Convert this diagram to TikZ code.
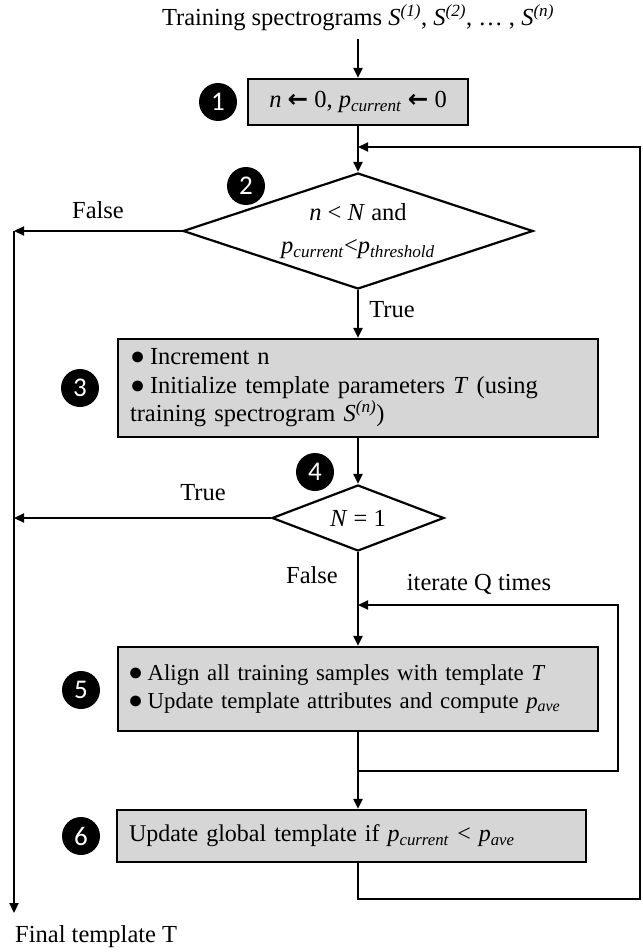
\documentclass[tikz,border=0pt]{standalone}
\usepackage{fontspec}
\setmainfont{Liberation Serif}
\newfontfamily\numfont{Carlito}
\newfontfamily\symf{DejaVu Sans}
\usetikzlibrary{shapes.geometric,arrows.meta}
\definecolor{boxgray}{RGB}{214,214,214}
\newcommand\pcur{\textit{p}\textsubscript{\textit{current}}}
\newcommand\pave{\textit{p}\textsubscript{\textit{ave}}}
\newcommand\bul{{\fontsize{25}{28}\selectfont ●}\hspace{0.2em}}
\newcommand\larr{{\symf\bfseries ←}}
\tikzset{
  line/.style={line width=2.2pt},
  arr/.style={line width=2.2pt,-{Triangle[length=10pt,width=9pt]}},
  procbox/.style={draw,line width=2.2pt,fill=boxgray,rectangle,inner sep=0pt},
  decis/.style={draw,diamond,line width=2.2pt,inner sep=0pt},
  numc/.style={circle,fill=black,text=white,minimum size=38pt,inner sep=0pt,font=\numfont\fontsize{27}{27}\selectfont},
}
\begin{document}
\begin{tikzpicture}[x=1pt,y=-1pt,font=\fontsize{24.5}{28.5}\selectfont]
\useasboundingbox (0,0) rectangle (642,952);
% nodes
\node[inner ysep=8pt,inner xsep=0pt] (title) at (358,18) {Training spectrograms \textit{S}\textsuperscript{\textit{(1)}}, \textit{S}\textsuperscript{\textit{(2)}}, … , \textit{S}\textsuperscript{\textit{(n)}}};
\node[procbox,minimum width=220pt,minimum height=46pt] (b1) at (358,102) {\textit{n} \larr{} 0, \pcur{} \larr{} 0};
\node[decis,minimum width=350pt,minimum height=116pt,aspect=3,align=center] (d2) at (358,231) {\textit{n} < \textit{N} and\\[5pt]\pcur<\textit{p}\textsubscript{\textit{threshold}}};
\node[procbox,minimum width=480pt,minimum height=98pt,text width=456pt,align=left] (b3) at (358,388) {\bul Increment n\\\bul Initialize template parameters \textit{T} (using\\training spectrogram \textit{S}\textsuperscript{\textit{(n)}})};
\node[decis,minimum width=172pt,minimum height=66pt,aspect=2.6] (d4) at (358,518) {\textit{N} = 1};
\node[procbox,minimum width=480pt,minimum height=84pt,text width=460pt,align=left,font=\fontsize{22.8}{28}\selectfont] (b5) at (358,689) {\bul Align all training samples with template \textit{T}\\\bul Update template attributes and compute \pave};
\node[procbox,minimum width=469pt,minimum height=52pt,text width=445pt,align=left,font=\fontsize{24}{28}\selectfont] (b6) at (351.5,836) {Update global template if \pcur{} < \pave};
\node[anchor=west,inner sep=0pt] (fin) at (15,937) {Final template T};
% number circles
\node[numc] (c1) at (218,102) {1};
\node[numc] (c2) at (246,186) {2};
\node[numc] (c3) at (80,388) {3};
\node[numc] (c4) at (315,472) {4};
\node[numc] (c5) at (81,690) {5};
\node[numc] (c6) at (81,836) {6};
% labels
\node[inner sep=0pt] (f1) at (98,210) {False};
\node[inner sep=0pt] (t1) at (392,310) {True};
\node[inner sep=0pt] (t2) at (203,493) {True};
\node[inner sep=0pt] (f2) at (312,575) {False};
\node[inner sep=0pt] (iq) at (479,584) {iterate Q times};
% coordinates
\coordinate (j1) at (358,147);
\coordinate (r2) at (640,899);
\coordinate (lx) at (14,0);
\coordinate (lend) at (14,913);
\coordinate (lq1) at (358,605);
\coordinate (lq2) at (618,605);
\coordinate (lq3) at (618,771);
\coordinate (lq4) at (358,771);
% connectors
\draw[arr] (b1.north |- title.south) -- (b1.north);
\draw[arr] (b1.south) -- (d2.north);
\draw[arr] (d2.west) -- (d2.west -| lx);
\draw[arr] (d2.west -| lx) -- (lend);
\draw[arr] (d2.south) -- (b3.north);
\draw[arr] (b3.south) -- (d4.north);
\draw[arr] (d4.west) -- (d4.west -| lx);
\draw[arr] (d4.south) -- (b5.north);
\draw[arr] (lq4) -- (lq3) -- (lq2) -- (lq1);
\draw[arr] (b5.south) -- (b6.north -| b5.south);
\draw[arr] (b6.south -| j1) |- (r2) |- (j1);
\end{tikzpicture}
\end{document}
